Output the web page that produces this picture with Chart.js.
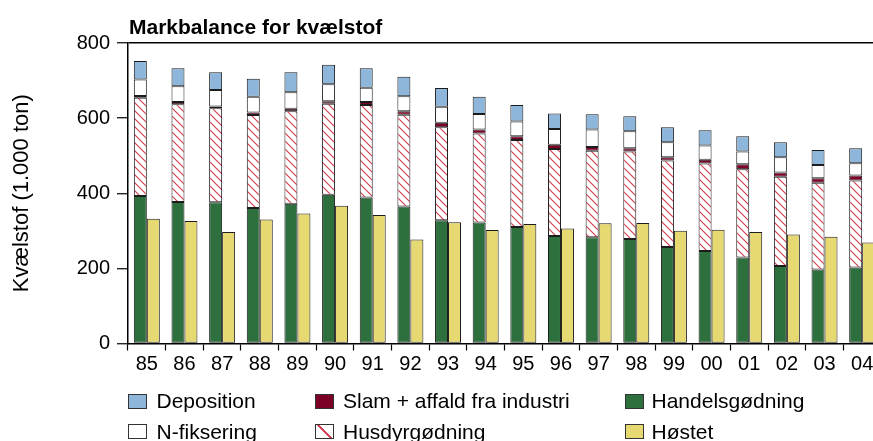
<!DOCTYPE html>
<html>
<head>
<meta charset="utf-8">
<script src="https://cdn.jsdelivr.net/npm/chart.js@4.4.1/dist/chart.umd.min.js"></script>
<style>
  html, body { margin: 0; padding: 0; background: #fff; overflow: hidden; width: 873px; height: 441px; }
  #wrap { position: relative; width: 890px; height: 441px; }
  canvas { position: absolute; left: 0; top: 0; }
  .t { position: absolute; font-family: "Liberation Sans", Arial, Helvetica, sans-serif; color: #000; white-space: nowrap; line-height: 21px; font-size: 21px; }
  .title { font-weight: bold; }
  .box { position: absolute; width: 17px; height: 13px; border: 1px solid #333; box-sizing: content-box; }
</style>
</head>
<body>
<div id="wrap">
  <canvas id="c" width="890" height="441"></canvas>
</div>
<script>
const years = ['85','86','87','88','89','90','91','92','93','94','95','96','97','98','99','00','01','02','03','04'];
const handelsgodning = [393, 377, 376, 361, 372, 396, 389, 365, 328, 322, 310, 286, 283, 278, 257, 246, 229, 206, 197, 202];
const husdyrgodning  = [261, 260, 250, 247, 246, 242, 246, 244, 248, 237, 232, 232, 230, 233, 230, 233, 235, 238, 231, 232];
const slam           = [5, 6, 5, 7, 7, 7, 8, 9, 12, 11, 10, 11, 10, 9, 9, 10, 13, 11, 12, 13];
const nfiksering     = [44, 42, 44, 42, 44, 45, 38, 40, 42, 41, 39, 42, 47, 45, 40, 38, 34, 41, 35, 33];
const deposition     = [49, 48, 47, 48, 53, 52, 52, 52, 50, 46, 44, 41, 40, 40, 40, 41, 41, 40, 40, 40];
const hostet         = [332, 326, 297, 330, 346, 367, 342, 277, 323, 302, 318, 306, 320, 321, 300, 303, 297, 290, 284, 269];
const yTickValues = [0, 200, 400, 600, 800];

const titleText = 'Markbalance for kvælstof';
const yTitleText = 'Kvælstof (1.000 ton)';

const C_DEP = '#8db6da';
const C_SLAM = '#7c0026';
const C_HAND = '#2e6f3e';
const C_HOST = '#e7d972';
const C_HATCH = '#cf3a4c';

function makeHatch() {
  const p = document.createElement('canvas');
  p.width = 8; p.height = 8;
  const g = p.getContext('2d');
  g.fillStyle = '#fff';
  g.fillRect(0, 0, 8, 8);
  g.strokeStyle = C_HATCH;
  g.lineWidth = 1.1;
  g.beginPath();
  g.moveTo(-1, -1); g.lineTo(9, 9);
  g.moveTo(-1, 7); g.lineTo(1, 9);
  g.moveTo(7, -1); g.lineTo(9, 1);
  g.stroke();
  return document.getElementById('c').getContext('2d').createPattern(p, 'repeat');
}
const hatch = makeHatch();

const FONT = '"Liberation Sans", Arial, Helvetica, sans-serif';
const common = { borderColor: '#1c1c1c', borderWidth: 1, borderSkipped: false, categoryPercentage: 0.69, barPercentage: 1.0 };

new Chart(document.getElementById('c'), {
  type: 'bar',
  data: {
    labels: years,
    datasets: [
      Object.assign({ label: 'Handelsgødning', data: handelsgodning, backgroundColor: C_HAND, stack: 'a' }, common),
      Object.assign({ label: 'Husdyrgødning', data: husdyrgodning, backgroundColor: hatch, stack: 'a' }, common),
      Object.assign({ label: 'Slam + affald fra industri', data: slam, backgroundColor: C_SLAM, stack: 'a' }, common),
      Object.assign({ label: 'N-fiksering', data: nfiksering, backgroundColor: '#ffffff', stack: 'a' }, common),
      Object.assign({ label: 'Deposition', data: deposition, backgroundColor: C_DEP, stack: 'a' }, common),
      Object.assign({ label: 'Høstet', data: hostet, backgroundColor: C_HOST, stack: 'b' }, common)
    ]
  },
  options: {
    responsive: false,
    animation: false,
    devicePixelRatio: 1,
    layout: { padding: { top: 43, right: 9, bottom: 0, left: 0 } },
    plugins: { legend: { display: false }, tooltip: { enabled: false }, title: { display: false } },
    scales: {
      x: {
        stacked: true,
        offset: true,
        border: { color: '#000', width: 1.5 },
        grid: { drawOnChartArea: false, tickLength: 7, tickColor: '#000', tickWidth: 1.2, offset: true },
        ticks: { color: '#000', font: { family: FONT, size: 20 }, padding: 2, maxRotation: 0, autoSkip: false },
        afterFit: (s) => { s.height = 97.5; }
      },
      y: {
        stacked: true,
        min: 0, max: 800,
        afterBuildTicks: (s) => { s.ticks = yTickValues.map(v => ({ value: v })); },
        border: { color: '#000', width: 1.5 },
        grid: {
          color: (ctx) => (ctx.tick && ctx.tick.value === 800) ? '#000' : 'rgba(0,0,0,0)',
          lineWidth: 1.5,
          tickLength: 11, tickColor: '#000', tickWidth: 1.2
        },
        ticks: { color: '#000', font: { family: FONT, size: 20 }, padding: 7 },
        title: { display: true, text: yTitleText, color: '#000', font: { family: FONT, size: 22 }, padding: { top: 9, bottom: 0 } },
        afterFit: (s) => { s.width = 128; }
      }
    }
  }
});

// HTML title and legend (real text)
const wrap = document.getElementById('wrap');
function addText(txt, x, y, cls) {
  const d = document.createElement('div');
  d.className = 't' + (cls ? ' ' + cls : '');
  d.style.left = x + 'px'; d.style.top = y + 'px';
  d.textContent = txt;
  wrap.appendChild(d);
}
function addBox(x, y, fill) {
  const b = document.createElement('div');
  b.className = 'box';
  b.style.left = x + 'px'; b.style.top = y + 'px';
  if (fill === 'hatch') {
    b.style.background = 'linear-gradient(45deg, #fff 44%, ' + C_HATCH + ' 46%, ' + C_HATCH + ' 54%, #fff 56%)';
    b.style.background = 'linear-gradient(-45deg, #fff 0%, #fff 44%, ' + C_HATCH + ' 47%, ' + C_HATCH + ' 53%, #fff 56%, #fff 100%)';
    b.style.transform = 'scaleX(-1)';
  } else {
    b.style.background = fill;
  }
  wrap.appendChild(b);
}
addText(titleText, 129, 15.5, 'title');

const legendItems = [
  { label: 'Deposition', fill: C_DEP, col: 0, row: 0 },
  { label: 'Slam + affald fra industri', fill: C_SLAM, col: 1, row: 0 },
  { label: 'Handelsgødning', fill: C_HAND, col: 2, row: 0 },
  { label: 'N-fiksering', fill: '#ffffff', col: 0, row: 1 },
  { label: 'Husdyrgødning', fill: 'hatch', col: 1, row: 1 },
  { label: 'Høstet', fill: C_HOST, col: 2, row: 1 }
];
const colBoxX = [128, 315, 625];
const colTextX = [156.5, 343, 651.5];
const rowBoxY = [394, 424];
const rowTextY = [390, 420.5];
legendItems.forEach(it => {
  addBox(colBoxX[it.col], rowBoxY[it.row], it.fill);
  addText(it.label, colTextX[it.col], rowTextY[it.row]);
});
</script>
</body>
</html>
